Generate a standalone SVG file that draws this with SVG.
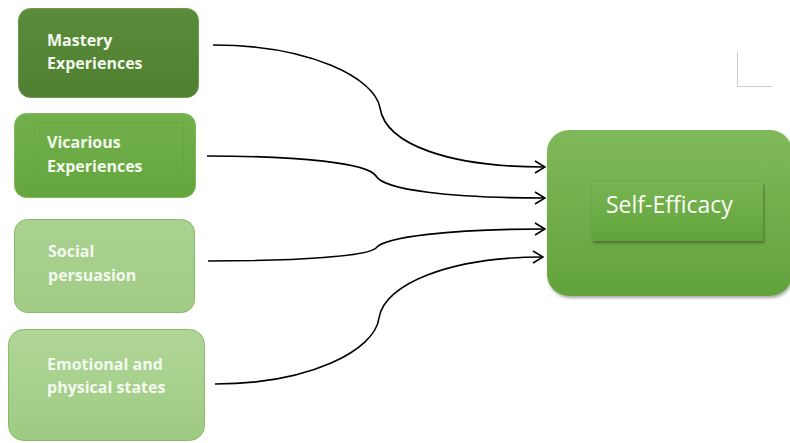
<svg xmlns="http://www.w3.org/2000/svg" width="790" height="443" viewBox="0 0 790 443">
<style>
.lbl{font-family:"Open Sans",Lato,"Liberation Sans",sans-serif;font-weight:bold;font-size:16px;fill:#f4f9ef}
.big{font-family:"Open Sans",Lato,"Liberation Sans",sans-serif;font-size:23px;fill:#fbfdf8}
.con{fill:none;stroke:#000;stroke-width:1.6}
</style>
<defs>
<marker id="arr" viewBox="0 0 12 14" refX="11" refY="7" markerWidth="12" markerHeight="14" markerUnits="userSpaceOnUse" orient="auto">
<path d="M1,1 L11,7 L1,13" fill="none" stroke="#000" stroke-width="1.6"/>
</marker>
<linearGradient id="g1" x1="0" y1="0" x2="0" y2="1"><stop offset="0" stop-color="#5a8c3a"/><stop offset="1" stop-color="#4f7f30"/></linearGradient>
<linearGradient id="g2" x1="0" y1="0" x2="0" y2="1"><stop offset="0" stop-color="#72b04b"/><stop offset="1" stop-color="#64a53d"/></linearGradient>
<linearGradient id="g3" x1="0" y1="0" x2="0" y2="1"><stop offset="0" stop-color="#aad190"/><stop offset="1" stop-color="#a2cc86"/></linearGradient>
<linearGradient id="g4" x1="0" y1="0" x2="0" y2="1"><stop offset="0" stop-color="#b0d697"/><stop offset="1" stop-color="#9fca83"/></linearGradient>
<linearGradient id="g5" x1="0" y1="0" x2="0" y2="1"><stop offset="0" stop-color="#80b95a"/><stop offset="1" stop-color="#63a33b"/></linearGradient>
<linearGradient id="g6" x1="0" y1="0" x2="0" y2="1"><stop offset="0" stop-color="#78b552"/><stop offset="1" stop-color="#62a33b"/></linearGradient>
<filter id="sh" x="-10%" y="-10%" width="125%" height="130%"><feDropShadow dx="1" dy="2" stdDeviation="1.5" flood-color="#000" flood-opacity="0.35"/></filter>
</defs>
<g id="corner-mark" stroke="#cccccc" stroke-width="1" fill="none"><path d="M737.5,52 V86.5 H772"/></g>
<g id="n-mastery">
<rect x="18.5" y="8.5" width="180" height="89" rx="12" fill="url(#g1)" stroke="#6b9a4c"/>
<text class="lbl" x="47" y="46">Mastery</text>
<text class="lbl" x="47" y="69">Experiences</text>
</g>
<g id="n-vicarious">
<rect x="14.5" y="113.5" width="181" height="84" rx="12" fill="url(#g2)" stroke="#80ba5c"/>
<rect x="34.5" y="122.5" width="149" height="60" fill="none" stroke="#64a03e" stroke-opacity="0.6"/>
<text class="lbl" x="47" y="148">Vicarious</text>
<text class="lbl" x="47" y="172">Experiences</text>
</g>
<g id="n-social">
<rect x="14.5" y="219.5" width="180" height="93" rx="13" fill="url(#g3)" stroke="#85bb64"/>
<text class="lbl" x="48" y="257">Social</text>
<text class="lbl" x="48" y="281">persuasion</text>
</g>
<g id="n-emotional">
<rect x="8.5" y="329.5" width="196" height="111" rx="15" fill="url(#g4)" stroke="#88bd67"/>
<text class="lbl" x="47" y="370">Emotional and</text>
<text class="lbl" x="47" y="393">physical states</text>
</g>
<g id="n-self-efficacy">
<rect x="547" y="130" width="245" height="166" rx="22" fill="url(#g5)" filter="url(#sh)"/>
<rect x="592" y="182" width="171" height="59" fill="url(#g6)" filter="url(#sh)"/>
<text class="big" x="606" y="213">Self-Efficacy</text>
</g>
<g id="connectors">
<path class="con" marker-end="url(#arr)" d="M213,45 C310,45 375,78 380,108 C386,145 450,167 545,167"/>
<path class="con" marker-end="url(#arr)" d="M207,156 C300,156 368,163 376,176 C384,190 450,198 545,198"/>
<path class="con" marker-end="url(#arr)" d="M208,261 C300,261 368,256 376,248 C384,237 450,229 545,229"/>
<path class="con" marker-end="url(#arr)" d="M215,384 C310,384 375,350 379,318 C384,284 450,257 543,257"/>
</g>
</svg>
